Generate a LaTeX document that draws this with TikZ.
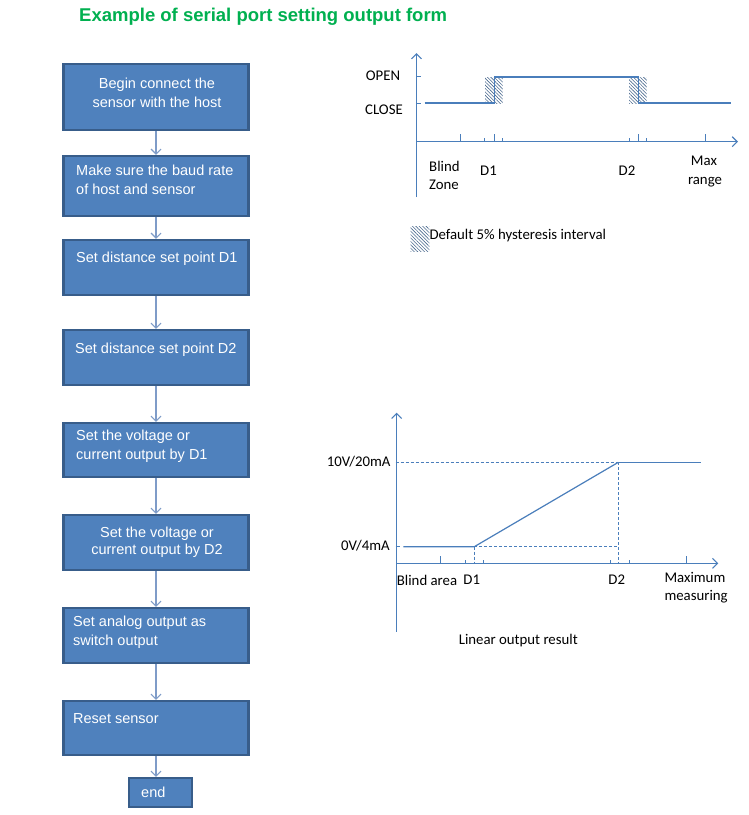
\documentclass[tikz,border=0pt]{standalone}
\usepackage{fontspec}
\setmainfont{Liberation Sans}
\newfontfamily\calfont{Carlito}
\usetikzlibrary{arrows.meta,patterns.meta}
\definecolor{boxfill}{HTML}{4F81BD}
\definecolor{boxline}{HTML}{385D8A}
\definecolor{conn}{HTML}{7F9CC8}
\definecolor{chart}{HTML}{4A7EBB}
\definecolor{hatchc}{HTML}{4A6A8F}
\definecolor{titlegreen}{HTML}{00B050}
\tikzset{
  stepbox/.style={draw=boxline, fill=boxfill, line width=2.4pt, minimum width=185pt, inner sep=0pt},
  boxtext/.style={text=white, inner sep=0pt, font=\fontsize{14.5}{19}\selectfont},
  connline/.style={draw=conn, line width=1.1pt, -{Straight Barb[length=5pt,width=10pt,line width=1.1pt]}},
  axisline/.style={draw=chart, line width=1.1pt, -{Straight Barb[length=5pt,width=10pt,line width=1.1pt]}},
  sig/.style={draw=chart, line width=1.2pt},
  tickline/.style={draw=chart, line width=1pt},
  dashline/.style={draw=chart, line width=0.9pt, dash pattern=on 3pt off 2pt},
  hatch/.style={pattern={Lines[angle=-45,distance=2.4pt,line width=0.6pt]}, pattern color=hatchc},
  lab/.style={inner sep=0pt, font=\calfont\fontsize{14.8}{19}\selectfont, text=black}
}
\begin{document}
\begin{tikzpicture}[x=1pt,y=-1pt]
\useasboundingbox[fill=white] (0,0) rectangle (749,815);
% title
\node[inner sep=0pt, anchor=west, text=titlegreen, font=\bfseries\fontsize{18.5}{22}\selectfont] (title) at (79,16.5) {Example of serial port setting output form};
% flowchart boxes
\node[stepbox, minimum height=66pt] (b1) at (156,97) {};
\node[stepbox, minimum height=60pt] (b2) at (156,186) {};
\node[stepbox, minimum height=55pt] (b3) at (156,267.5) {};
\node[stepbox, minimum height=55pt] (b4) at (156,357.5) {};
\node[stepbox, minimum height=54pt] (b5) at (156,450) {};
\node[stepbox, minimum height=55pt] (b6) at (156,542.5) {};
\node[stepbox, minimum height=55pt] (b7) at (156,635.5) {};
\node[stepbox, minimum height=54pt] (b8) at (156,728) {};
\node[stepbox, minimum width=63pt, minimum height=29pt] (bend) at (160.5,792.5) {};
% box texts
\node[boxtext, align=center] (t1) at (157,92.5) {Begin connect the\\sensor with the host};
\node[boxtext, align=left, anchor=west] (t2) at (76,180) {Make sure the baud rate\\of host and sensor};
\node[boxtext, anchor=west] (t3) at (76,259) {Set distance set point D1};
\node[boxtext, anchor=west] (t4) at (75,350) {Set distance set point D2};
\node[boxtext, align=left, anchor=west] (t5) at (76,446.5) {Set the voltage or\\current output by D1};
\node[boxtext, align=center, font=\fontsize{14.5}{17}\selectfont] (t6) at (157,542.5) {Set the voltage or\\current output by D2};
\node[boxtext, align=left, anchor=west] (t7) at (73,632.5) {Set analog output as\\switch output};
\node[boxtext, anchor=west] (t8) at (73,719) {Reset sensor};
\node[boxtext, anchor=west] (t9) at (141,792) {end};
% connectors
\draw[connline] (b1.south) -- (b2.north);
\draw[connline] (b2.south) -- (b3.north);
\draw[connline] (b3.south) -- (b4.north);
\draw[connline] (b4.south) -- (b5.north);
\draw[connline] (b5.south) -- (b6.north);
\draw[connline] (b6.south) -- (b7.north);
\draw[connline] (b7.south) -- (b8.north);
\draw[connline] (b8.south) -- (b8.south |- bend.north);

% ===== switch chart =====
\coordinate (o1) at (416.5,141.7);
\path[hatch] (485,77) rectangle (502.7,103);
\path[hatch] (629,77) rectangle (646.7,103);
\draw[axisline] (416.5,197) -- (416.5,53);
\draw[axisline] (o1) -- (738,141.7);
\draw[tickline] (416.5,76.5) -- (420.5,76.5);
\draw[tickline] (416.5,103) -- (420.5,103);
\draw[sig] (424.5,103) -- (494.7,103) -- (494.7,77) -- (638.3,77) -- (638.3,103) -- (731,103);
\foreach \x in {460,494.7,638.3,705.7} \draw[tickline] (\x,141.7) -- (\x,133.5);
\foreach \x in {484.3,502.7,629.3,646.7} \draw[tickline] (\x,141.7) -- (\x,137.5);
\node[lab] (lopen) at (383,76) {OPEN};
\node[lab] (lclose) at (384,109.5) {CLOSE};
\node[lab, anchor=west] (lblind) at (429,166) {Blind};
\node[lab, anchor=west] (lzone) at (429,185) {Zone};
\node[lab] (ld1) at (488.5,171) {D1};
\node[lab] (ld2) at (627,171) {D2};
\node[lab] (lmax) at (704,161) {Max};
\node[lab] (lrange) at (705,182) {range};
% legend
\path[hatch] (410.7,226.7) rectangle (429.3,251.7);
\node[lab, anchor=west] (lleg) at (429.3,235.5) {Default 5\% hysteresis interval};

% ===== linear chart =====
\coordinate (o2) at (396.7,563.3);
\draw[axisline] (396.7,631.7) -- (396.7,412.7);
\draw[axisline] (o2) -- (718.3,563.3);
\draw[dashline] (395.7,462.3) -- (618.3,462.3);
\draw[sig] (618.3,462.3) -- (701,462.3);
\draw[tickline] (395.7,546.7) -- (399.5,546.7);
\draw[sig] (403.3,546.7) -- (474.3,546.7) -- (618.3,462.3);
\draw[dashline] (474.3,546.7) -- (618.3,546.7);
\draw[dashline] (474.3,546.7) -- (474.3,563.3);
\draw[dashline] (618.3,462.3) -- (618.3,563.3);
\foreach \x in {440,686} \draw[tickline] (\x,563.3) -- (\x,556);
\foreach \x in {465.7,483.3,610.7,629} \draw[tickline] (\x,563.3) -- (\x,559.5);
\node[lab, anchor=east] (l10v) at (390.7,462) {10V/20mA};
\node[lab, anchor=east] (l0v) at (390,546) {0V/4mA};
\node[lab, anchor=west] (lblinda) at (396.7,580) {Blind area};
\node[lab] (ld1b) at (471.7,580) {D1};
\node[lab] (ld2b) at (616.7,580) {D2};
\node[lab, anchor=west] (lmaxm) at (664.3,577.3) {Maximum};
\node[lab, anchor=west] (lmeas) at (664.3,596.7) {measuring};
\node[lab] (llin) at (518.3,640.7) {Linear output result};
\end{tikzpicture}
\end{document}
